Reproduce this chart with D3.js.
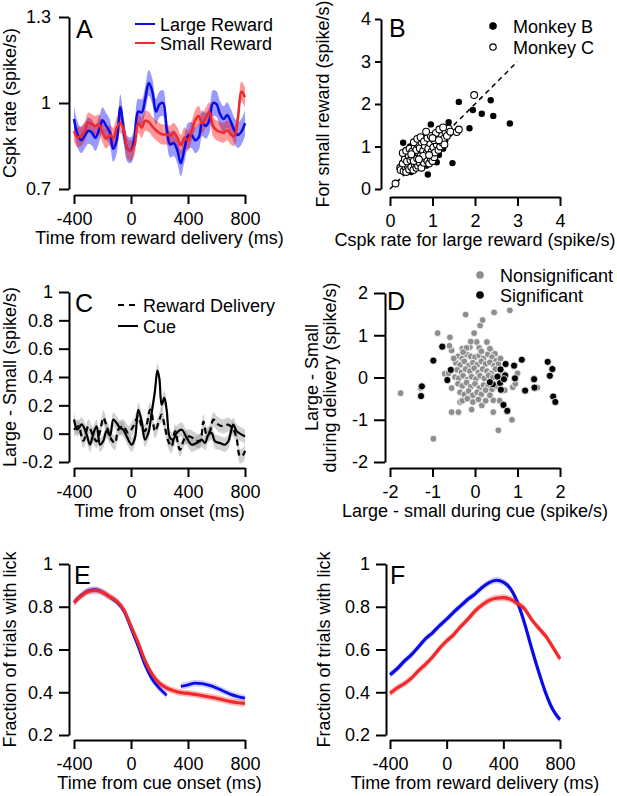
<!DOCTYPE html>
<html lang="en">
<head>
<meta charset="utf-8">
<title>Reward figure</title>
<script src="https://cdn.jsdelivr.net/npm/d3@7"></script>
<style>
  body { margin: 0; background: #fff; }
  svg { font-family: "Liberation Sans", Arial, sans-serif; }
</style>
</head>
<body>
<script>
// ---------- data ----------
// A: Cspk rate around reward delivery
var timeA = d3.range(-400, 801, 25);
var largeA = [0.944,0.89,0.87,0.885,0.903,0.897,0.878,0.905,0.94,0.92,0.9,0.84,0.87,0.985,0.9,0.84,
              0.835,0.88,0.97,0.967,1.015,1.07,1.04,0.97,0.995,1.0,0.91,0.855,0.86,0.835,0.79,0.84,
              0.885,0.888,0.87,0.88,0.93,0.92,0.94,1.0,0.996,0.961,0.944,0.958,0.935,0.905,0.888,0.9,0.93];
var smallA = [0.902,0.88,0.885,0.9,0.932,0.926,0.92,0.925,0.898,0.875,0.888,0.879,0.915,0.93,0.905,0.84,
              0.833,0.853,0.93,0.914,0.938,0.934,0.918,0.905,0.895,0.89,0.89,0.886,0.896,0.88,0.853,0.88,
              0.868,0.9,0.94,0.955,0.928,0.95,0.968,0.92,0.905,0.9,0.896,0.905,0.89,0.885,0.945,1.04,1.02];
var semLargeA = 0.045, semSmallA = 0.035;

// B: small vs large reward rate per neuron
var monkeyB = [[0.31,1.09],[0.96,1.52],[0.89,0.34],[1.47,0.61],[1.62,2.05],[1.38,1.57],[1.87,1.43],
  [1.95,1.86],[2.16,1.77],[2.37,2.09],[2.43,1.72],[2.82,1.54],[1.10,0.63],[1.02,1.24],[0.43,0.85],
  [0.47,1.00],[0.86,1.31],[0.70,1.09],[0.40,0.62],[0.55,0.80],[0.62,0.95],[0.75,0.75],[0.80,1.00],
  [0.95,0.90],[1.05,0.85],[1.15,0.80],[1.20,1.20],[1.30,1.15],[1.35,1.45],[0.65,0.60],[0.85,0.55],
  [1.00,0.75],[1.10,1.10],[1.25,0.95],[0.50,0.40],[0.35,0.75],[1.40,1.30]];
var monkeyC = [[0.13,0.13],[0.24,0.50],[0.25,0.45],[0.32,0.42],[0.36,0.52],[0.38,0.40],[0.42,0.55],
  [0.45,0.46],[0.50,0.52],[0.55,0.45],[0.58,0.58],[0.62,0.50],[0.66,0.55],[0.70,0.62],[0.74,0.50],
  [0.30,0.60],[0.35,0.70],[0.40,0.65],[0.44,0.78],[0.48,0.68],[0.52,0.75],[0.56,0.66],[0.60,0.80],
  [0.64,0.72],[0.68,0.85],[0.72,0.78],[0.76,0.68],[0.80,0.62],[0.84,0.72],[0.88,0.66],[0.92,0.60],
  [0.96,0.72],[1.00,0.66],[1.04,0.75],[0.30,0.85],[0.38,0.90],[0.46,0.95],[0.52,0.88],[0.58,1.00],
  [0.62,0.92],[0.66,1.05],[0.70,0.96],[0.74,1.10],[0.78,0.90],[0.82,1.02],[0.86,0.84],[0.90,0.95],
  [0.94,1.08],[0.98,0.88],[1.02,0.98],[1.06,0.86],[1.10,1.05],[1.14,0.92],[1.18,1.00],[1.22,1.10],
  [0.56,1.10],[0.64,1.18],[0.72,1.22],[0.80,1.12],[0.88,1.20],[0.96,1.25],[1.04,1.15],[1.12,1.22],
  [1.20,1.28],[1.26,1.18],[1.30,1.35],[1.34,1.25],[1.38,1.42],[1.42,1.35],[1.08,1.32],[1.16,1.40],
  [0.85,1.35],[1.25,1.45],[1.57,1.34],[1.62,1.40],[1.98,2.21],[0.50,0.82],[0.78,0.78],[1.00,1.20],
  [1.28,1.05],[0.92,0.80],[0.68,0.70],[1.15,1.15]];

// C: large - small difference, cue vs reward delivery
var timeCue = [-400,-377,-346,-311,-288,-264,-241,-217,-194,-171,-147,-124,-101,-77,-54,-30,5,28,51,75,
  98,122,145,168,185,199,215,234,250,274,297,320,356,391,426,461,496,519,543,566,589,624,660,683,718,741,777,800];
var cueDiff = [0.10,0.03,0.065,-0.007,-0.078,0.0,0.052,-0.078,-0.05,0.02,-0.015,0.099,0.075,0.04,0.028,-0.02,
  -0.078,-0.03,0.169,0.087,-0.042,0.005,0.146,0.3,0.445,0.39,0.205,0.252,0.17,-0.03,-0.042,0.005,0.028,-0.03,
  -0.078,-0.066,-0.042,-0.066,-0.007,0.005,-0.054,-0.066,-0.078,-0.054,0.064,0.017,-0.007,-0.02];
var timeRew = [-400,-370,-334,-299,-264,-241,-217,-194,-171,-136,-112,-89,-54,-19,16,51,75,98,133,145,
  168,192,215,239,262,285,309,344,379,414,449,484,508,531,554,578,613,648,683,718,741,765,788,800];
var rewDiff = [0.028,0.052,-0.05,0.052,-0.02,-0.054,0.017,0.113,0.052,-0.042,-0.066,0.028,0.052,0.005,0.052,
  0.123,0.052,0.017,0.169,0.146,0.017,0.075,0.134,0.04,-0.054,-0.09,0.017,-0.113,-0.03,-0.02,-0.042,-0.054,
  0.085,-0.007,0.017,0.099,0.064,0.052,0.064,0.028,-0.03,-0.16,-0.148,-0.12];
var semDiff = 0.05;

// D: delivery difference vs cue difference
var nonSig = [[-1.75,-0.37],[-0.98,-1.45],[-0.88,1.05],[-0.59,0.95],[-0.55,0.64],[-0.22,1.49],[-0.02,1.05],
  [0.12,1.23],[0.18,1.36],[0.45,1.54],[0.82,1.59],[-0.71,0.09],[-0.55,-0.82],[-0.39,-0.82],[-0.08,-0.76],
  [0.55,-1.25],[0.87,-1.0],[0.43,-0.82],[0.16,-0.66],[1.47,-0.24],[0.89,-0.23],[-0.47,0.01],[-1.28,-0.25],
  [-0.60,0.75],[-0.30,0.68],[0.28,0.84],[0.04,0.84],[-0.12,0.72],[0.39,0.62],[0.47,0.56],[-0.35,-0.58],
  [0.43,-0.54],[-0.62,0.10],[0.58,-0.55],[0.95,-0.15],[1.00,0.10],
  [-0.40,0.50],[-0.30,0.45],[-0.20,0.55],[-0.10,0.50],[0.00,0.48],[0.10,0.52],[0.20,0.45],[0.30,0.55],
  [0.40,0.48],[0.50,0.40],[-0.45,0.35],[-0.35,0.30],[-0.25,0.38],[-0.15,0.28],[-0.05,0.35],[0.05,0.30],
  [0.15,0.38],[0.25,0.32],[0.35,0.36],[0.45,0.28],[0.55,0.32],[-0.42,0.18],[-0.32,0.12],[-0.22,0.20],
  [-0.12,0.15],[-0.02,0.22],[0.08,0.12],[0.18,0.20],[0.28,0.15],[0.38,0.10],[0.48,0.20],[-0.38,-0.02],
  [-0.28,0.04],[-0.18,-0.05],[-0.08,0.02],[0.02,-0.04],[0.12,0.04],[0.22,-0.02],[0.32,0.05],[0.42,0.00],
  [-0.40,-0.15],[-0.30,-0.20],[-0.20,-0.12],[-0.10,-0.22],[0.00,-0.15],[0.10,-0.25],[0.20,-0.18],
  [0.30,-0.22],[0.40,-0.28],[0.50,-0.20],[-0.35,-0.35],[-0.25,-0.40],[-0.15,-0.32],[-0.05,-0.42],
  [0.05,-0.35],[0.15,-0.40],[0.25,-0.30],[0.35,-0.42],[-0.30,-0.55],[-0.18,-0.50],[-0.05,-0.58],
  [0.08,-0.52],[0.25,-0.55],[-0.20,0.70],[0.10,0.70],[0.35,0.68],[-0.50,0.45],[0.60,0.45],[0.65,0.10],
  [-0.55,-0.25],[0.70,-0.30],[0.58,0.00],[-0.10,0.85],[0.15,0.62],[-0.28,0.60]];
var sig = [[-1.25,-0.21],[-1.27,-0.44],[-0.98,0.40],[-0.77,0.73],[-0.57,0.18],[-0.65,-0.06],[1.10,0.42],
  [1.71,0.37],[1.82,0.20],[1.76,0.04],[1.84,-0.45],[1.89,-0.58],[1.39,-0.04],[1.40,-0.24],[1.18,-0.31],
  [0.67,-0.65],[0.76,-0.79],[0.72,0.32],[0.92,0.28],[0.94,-0.02],[0.60,0.19],[0.71,0.05],[0.53,0.02],
  [0.42,-0.16],[0.59,-0.13],[0.61,-0.29],[0.35,-0.11],[0.68,-0.04]];

// E, F: licking
var timeLick = d3.range(-400, 801, 50);
var largeE = [0.82,0.853,0.875,0.88,0.868,0.846,0.822,0.78,0.70,0.615,0.525,0.46,0.418,0.386,null,
              0.428,0.435,0.443,0.44,0.432,0.42,0.405,0.39,0.38,0.372];
var smallE = [0.82,0.85,0.872,0.876,0.868,0.847,0.826,0.786,0.71,0.632,0.545,0.483,0.442,0.42,0.407,
              0.398,0.395,0.39,0.384,0.378,0.372,0.364,0.356,0.351,0.348];
var largeF = [0.482,0.51,0.545,0.575,0.612,0.65,0.678,0.712,0.742,0.775,0.805,0.835,0.86,0.89,0.913,
              0.924,0.915,0.885,0.82,0.722,0.605,0.495,0.395,0.318,0.272];
var smallF = [0.395,0.42,0.44,0.465,0.5,0.53,0.565,0.605,0.64,0.67,0.708,0.742,0.78,0.808,0.83,
              0.84,0.843,0.835,0.815,0.79,0.74,0.7,0.662,0.61,0.556];
var semLick = 0.016;

// ---------- drawing ----------
var W = 617, H = 796;
var BLUE = "#0b0be8", RED = "#f02a2a";

var svg = d3.select("body").append("svg")
    .attr("width", W)
    .attr("height", H);

// R-like axes: each axis spans only first..last tick
function panel(p) {
  var x = d3.scaleLinear().domain(p.xd).range(p.xr);
  var y = d3.scaleLinear().domain(p.yd).range(p.yr);
  var g = svg.append("g");
  var plot = g.append("g");
  var gx = g.append("g")
      .attr("transform", "translate(0," + p.ay + ")")
      .call(d3.axisBottom(x).tickValues(p.xt).tickSize(9).tickSizeOuter(0)
            .tickPadding(8).tickFormat(String));
  var gy = g.append("g")
      .attr("transform", "translate(" + p.ax + ",0)")
      .call(d3.axisLeft(y).tickValues(p.yt).tickSize(p.ytl || 10).tickSizeOuter(0)
            .tickPadding(p.ytp || 6).tickFormat(String));
  [gx, gy].forEach(function(a) {
    a.attr("font-size", 18).attr("font-family", null);
    a.selectAll("path, line").attr("stroke", "#000").attr("stroke-width", 2);
    a.selectAll("text").attr("fill", "#000");
  });
  g.append("text").attr("x", p.lx).attr("y", p.ly)
      .attr("font-size", 25).text(p.letter);
  g.append("text")
      .attr("x", (p.xr[0] + p.xr[1]) / 2).attr("y", p.ay + 49)
      .attr("text-anchor", "middle").attr("font-size", 18)
      .text(p.xlabel);
  p.ylabel.forEach(function(t, i) {
    g.append("text")
        .attr("transform", "translate(" + p.ylx[i] + "," + ((p.yr[0] + p.yr[1]) / 2) + ") rotate(-90)")
        .attr("text-anchor", "middle").attr("font-size", 18)
        .text(t);
  });
  return {x: x, y: y, g: plot};
}

function band(P, times, vals, sem, fill, op, curve) {
  var area = d3.area()
      .defined(function(d, i) { return vals[i] != null; })
      .x(function(d, i) { return P.x(times[i]); })
      .y0(function(d, i) { return P.y(vals[i] - sem); })
      .y1(function(d, i) { return P.y(vals[i] + sem); })
      .curve(curve);
  P.g.append("path").attr("d", area(vals)).attr("fill", fill).attr("fill-opacity", op);
}

function trace(P, times, vals, color, width, curve, dash) {
  var line = d3.line()
      .defined(function(d, i) { return vals[i] != null; })
      .x(function(d, i) { return P.x(times[i]); })
      .y(function(d, i) { return P.y(vals[i]); })
      .curve(curve);
  P.g.append("path").attr("d", line(vals)).attr("fill", "none")
      .attr("stroke", color).attr("stroke-width", width)
      .attr("stroke-dasharray", dash || null);
}

function legendLine(x, y, color, text, dash) {
  svg.append("line").attr("x1", x).attr("x2", x + 20).attr("y1", y).attr("y2", y)
      .attr("stroke", color).attr("stroke-width", 2).attr("stroke-dasharray", dash || null);
  svg.append("text").attr("x", x + 25).attr("y", y + 6.5).attr("font-size", 18).text(text);
}

function legendDot(x, y, fill, stroke, text) {
  svg.append("circle").attr("cx", x).attr("cy", y).attr("r", 3.2)
      .attr("fill", fill).attr("stroke", stroke).attr("stroke-width", 1.2);
  svg.append("text").attr("x", x + 20).attr("y", y + 6.5).attr("font-size", 18).text(text);
}

var smooth = d3.curveCatmullRom;

// Panel A
var A = panel({xd: [-400, 800], xr: [74, 245], ay: 195, xt: [-400, 0, 400, 800],
  yd: [0.7, 1.3], yr: [189, 17], ax: 69, yt: [0.7, 1, 1.3], ytp: 8,
  letter: "A", lx: 76, ly: 38,
  xlabel: "Time from reward delivery (ms)", ylabel: ["Cspk rate (spike/s)"], ylx: [16]});
band(A, timeA, largeA, semLargeA, "#0000ff", 0.4, smooth);
band(A, timeA, smallA, semSmallA, "#ff0000", 0.4, smooth);
trace(A, timeA, largeA, BLUE, 2.5, smooth);
trace(A, timeA, smallA, RED, 2.5, smooth);
legendLine(135, 24, BLUE, "Large Reward");
legendLine(135, 43, RED, "Small Reward");

// Panel B
var B = panel({xd: [0, 4], xr: [390, 560], ay: 197, xt: [0, 1, 2, 3, 4],
  yd: [0, 4], yr: [189, 19], ax: 381, yt: [0, 1, 2, 3, 4], ytl: 6, ytp: 4,
  letter: "B", lx: 389, ly: 37,
  xlabel: "Cspk rate for large reward (spike/s)", ylabel: ["For small reward (spike/s)"], ylx: [329]});
B.g.append("line").attr("x1", B.x(0)).attr("y1", B.y(0)).attr("x2", B.x(3)).attr("y2", B.y(3))
    .attr("stroke", "#000").attr("stroke-width", 1.5).attr("stroke-dasharray", "5,4");
B.g.selectAll(".mb").data(monkeyB).enter().append("circle")
    .attr("cx", function(d) { return B.x(d[0]); })
    .attr("cy", function(d) { return B.y(d[1]); })
    .attr("r", 3.2).attr("fill", "#000");
B.g.selectAll(".mc").data(monkeyC).enter().append("circle")
    .attr("cx", function(d) { return B.x(d[0]); })
    .attr("cy", function(d) { return B.y(d[1]); })
    .attr("r", 3.4).attr("fill", "#fff").attr("stroke", "#000").attr("stroke-width", 1.1);
legendDot(493, 26, "#000", "#000", "Monkey B");
legendDot(493, 47, "#fff", "#000", "Monkey C");

// Panel C
var C = panel({xd: [-400, 800], xr: [74, 245], ay: 468, xt: [-400, 0, 400, 800],
  yd: [-0.2, 1], yr: [462, 292], ax: 69, yt: [-0.2, 0, 0.2, 0.4, 0.6, 0.8, 1],
  letter: "C", lx: 75, ly: 312,
  xlabel: "Time from onset (ms)", ylabel: ["Large - Small (spike/s)"], ylx: [16]});
band(C, timeRew, rewDiff, semDiff, "#8c8c8c", 0.4, smooth);
band(C, timeCue, cueDiff, semDiff, "#8c8c8c", 0.4, smooth);
trace(C, timeRew, rewDiff, "#000", 2.2, smooth, "6,4");
trace(C, timeCue, cueDiff, "#000", 2.2, smooth);
legendLine(118, 305, "#000", "Reward Delivery", "6,5");
legendLine(118, 326, "#000", "Cue");

// Panel D
var D = panel({xd: [-2, 2], xr: [390, 560], ay: 468, xt: [-2, -1, 0, 1, 2],
  yd: [-2, 2], yr: [462, 293], ax: 385, yt: [-2, -1, 0, 1, 2], ytl: 11, ytp: 6,
  letter: "D", lx: 387, ly: 310,
  xlabel: "Large - small during cue (spike/s)",
  ylabel: ["Large - Small", "during delivery (spike/s)"], ylx: [318, 336]});
D.g.selectAll(".ns").data(nonSig).enter().append("circle")
    .attr("cx", function(d) { return D.x(d[0]); })
    .attr("cy", function(d) { return D.y(d[1]); })
    .attr("r", 3.4).attr("fill", "#8e8e8e").attr("stroke", "#fff").attr("stroke-width", 0.8);
D.g.selectAll(".sg").data(sig).enter().append("circle")
    .attr("cx", function(d) { return D.x(d[0]); })
    .attr("cy", function(d) { return D.y(d[1]); })
    .attr("r", 3.6).attr("fill", "#000").attr("stroke", "#fff").attr("stroke-width", 0.8);
legendDot(480, 275, "#8e8e8e", "#8e8e8e", "Nonsignificant");
legendDot(480, 295, "#000", "#000", "Significant");

// Panel E
var E = panel({xd: [-400, 800], xr: [74, 245], ay: 740, xt: [-400, 0, 400, 800],
  yd: [0.2, 1], yr: [735, 564], ax: 69, yt: [0.2, 0.4, 0.6, 0.8, 1],
  letter: "E", lx: 74, ly: 584,
  xlabel: "Time from cue onset (ms)", ylabel: ["Fraction of trials with lick"], ylx: [16]});
band(E, timeLick, largeE, semLick, "#0000ff", 0.18, d3.curveMonotoneX);
band(E, timeLick, smallE, semLick, "#ff0000", 0.25, d3.curveMonotoneX);
trace(E, timeLick, largeE, BLUE, 2.8, d3.curveMonotoneX);
trace(E, timeLick, smallE, RED, 3.2, d3.curveMonotoneX);

// Panel F
var F = panel({xd: [-400, 800], xr: [390, 560], ay: 740, xt: [-400, 0, 400, 800],
  yd: [0.2, 1], yr: [735, 564], ax: 386, yt: [0.2, 0.4, 0.6, 0.8, 1],
  letter: "F", lx: 390, ly: 584,
  xlabel: "Time from reward delivery (ms)", ylabel: ["Fraction of trials with lick"], ylx: [330]});
band(F, timeLick, largeF, semLick, "#0000ff", 0.18, d3.curveMonotoneX);
band(F, timeLick, smallF, semLick, "#ff0000", 0.25, d3.curveMonotoneX);
trace(F, timeLick, largeF, BLUE, 3.2, d3.curveMonotoneX);
trace(F, timeLick, smallF, RED, 3.2, d3.curveMonotoneX);
</script>
</body>
</html>
